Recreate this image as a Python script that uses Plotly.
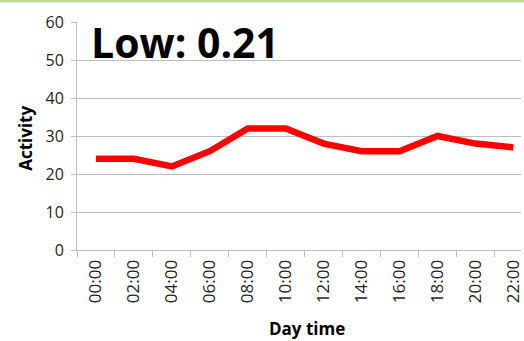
import plotly.graph_objects as go

# Activity level over the day (two-hour slots)
hours = ["00:00", "02:00", "04:00", "06:00", "08:00", "10:00",
         "12:00", "14:00", "16:00", "18:00", "20:00", "22:00"]
activity = [24, 24, 22, 26, 32, 32, 28, 26, 26, 30, 28, 27]
y_ticks = [0, 10, 20, 30, 40, 50, 60]
label_text = "Low: 0.21"

grid = "#BFBFBF"
txt = "#1F1F1F"
font = "Open Sans"

fig = go.Figure()
fig.add_trace(go.Scatter(
    x=hours, y=activity, mode="lines",
    line=dict(color="#FF0000", width=6.5, shape="linear"),
    hoverinfo="skip", showlegend=False,
))

fig.update_layout(
    width=524, height=341,
    margin=dict(l=77, r=0, t=22, b=91),
    paper_bgcolor="white", plot_bgcolor="white",
    font=dict(family=font, size=16, color=txt),
    xaxis=dict(
        type="category", categoryorder="array", categoryarray=hours,
        range=[-0.5, 11.2],
        showgrid=False, zeroline=False,
        showline=True, linecolor=grid, linewidth=1,
        ticks="outside", ticklen=6, tickcolor=grid, tickwidth=1,
        tickson="boundaries", tickangle=-90,
        tickfont=dict(family=font, size=17, color=txt),
        ticklabelstandoff=2,
    ),
    yaxis=dict(
        range=[0, 60], tickvals=y_ticks,
        showgrid=True, gridcolor=grid, gridwidth=1,
        zeroline=False,
        showline=True, linecolor=grid, linewidth=1,
        ticks="outside", ticklen=5, tickcolor=grid, tickwidth=1,
        tickfont=dict(family=font, size=16, color=txt),
        ticklabelstandoff=4,
    ),
    annotations=[
        dict(text=f"<b>{label_text}</b>", xref="paper", yref="paper",
             x=0.026, y=1.045, xanchor="left", yanchor="top",
             showarrow=False, font=dict(family=font, size=41, color="black")),
        dict(text="<b>Activity</b>", xref="paper", yref="paper",
             x=-0.116, y=0.49, xanchor="center", yanchor="middle",
             textangle=-90, showarrow=False,
             font=dict(family=font, size=17, color="black")),
        dict(text="<b>Day time</b>", xref="paper", yref="paper",
             x=0.517, y=-0.345, xanchor="center", yanchor="middle",
             showarrow=False, font=dict(family=font, size=17, color="black")),
    ],
    shapes=[
        dict(type="line", xref="paper", yref="paper",
             x0=-0.2, x1=1.1, y0=1.092, y1=1.092,
             line=dict(color="#C4D79B", width=3)),
    ],
)

fig.write_html("out.html")
